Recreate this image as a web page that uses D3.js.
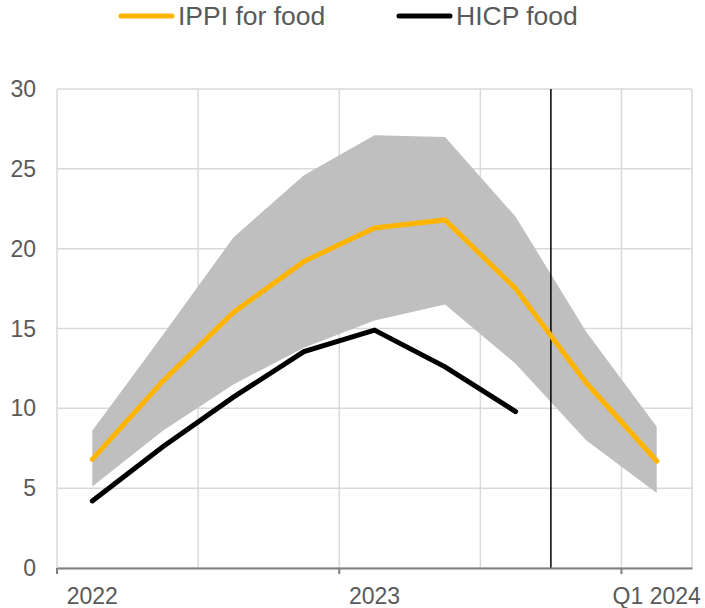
<!DOCTYPE html>
<html>
<head>
<meta charset="utf-8">
<script src="https://cdn.jsdelivr.net/npm/d3@7"></script>
<style>
  html, body { margin: 0; padding: 0; background: #fff; }
  svg { display: block; font-family: "Liberation Sans", Arial, sans-serif; }
</style>
</head>
<body>
<svg id="chart" width="705" height="608"></svg>
<script>
// Quarterly periods, Q1 2022 to Q1 2024
const quarters = ["2022Q1","2022Q2","2022Q3","2022Q4","2023Q1","2023Q2","2023Q3","2023Q4","2024Q1"];
const tickLabels = {"2022Q1": "2022", "2023Q1": "2023", "2024Q1": "Q1 2024"};

// Annual growth rates, %
const ippiFood  = [6.8, 11.7, 16.0, 19.2, 21.3, 21.8, 17.5, 11.6, 6.7];
const hicpFood  = [4.2, 7.6, 10.7, 13.55, 14.9, 12.6, 9.8, null, null];
const rangeLow  = [5.1, 8.6, 11.5, 13.8, 15.5, 16.5, 12.8, 8.0, 4.7];
const rangeHigh = [8.6, 14.6, 20.7, 24.6, 27.1, 27.0, 22.0, 14.8, 8.85];

const yTicks = [0, 5, 10, 15, 20, 25, 30];

const svg = d3.select("#chart");
const m = { left: 57, right: 13, top: 89, bottom: 40 };
const W = 705, H = 608;
const iw = W - m.left - m.right, ih = H - m.top - m.bottom;

const x = d3.scaleBand().domain(quarters).range([m.left, m.left + iw]).paddingInner(0).paddingOuter(0);
const y = d3.scaleLinear().domain([0, 30]).range([m.top + ih, m.top]);
const cx = q => x(q) + x.bandwidth() / 2;

const gridColor = "#d9d9d9";
const textColor = "#595959";
const axisColor = "#7f7f7f";

// Horizontal gridlines
svg.append("g").selectAll("line").data(yTicks).join("line")
  .attr("x1", m.left).attr("x2", m.left + iw)
  .attr("y1", d => y(d)).attr("y2", d => y(d))
  .attr("stroke", gridColor).attr("stroke-width", 1.5);

// Vertical gridlines every half year, plus the plot edges
const vGrid = quarters.filter((q, i) => i % 2 === 0).map(q => x(q)).concat([m.left + iw]);
svg.append("g").selectAll("line").data(vGrid).join("line")
  .attr("x1", d => d).attr("x2", d => d)
  .attr("y1", m.top).attr("y2", m.top + ih)
  .attr("stroke", gridColor).attr("stroke-width", 1.5);

// Range band
const area = d3.area()
  .x((d, i) => cx(quarters[i]))
  .y0((d, i) => y(rangeLow[i]))
  .y1(d => y(d));
svg.append("path").datum(rangeHigh).attr("d", area).attr("fill", "#bfbfbf");

// Projection cut-off marker
svg.append("line")
  .attr("x1", x("2023Q4")).attr("x2", x("2023Q4"))
  .attr("y1", m.top).attr("y2", m.top + ih)
  .attr("stroke", "#000").attr("stroke-width", 1.5);

const line = d3.line()
  .defined(d => d != null)
  .x((d, i) => cx(quarters[i]))
  .y(d => y(d));

svg.append("path").datum(hicpFood).attr("d", line)
  .attr("fill", "none").attr("stroke", "#000").attr("stroke-width", 5)
  .attr("stroke-linecap", "round").attr("stroke-linejoin", "miter");

svg.append("path").datum(ippiFood).attr("d", line)
  .attr("fill", "none").attr("stroke", "#ffb400").attr("stroke-width", 5)
  .attr("stroke-linecap", "round").attr("stroke-linejoin", "miter");

// Y axis labels
svg.append("g").selectAll("text").data(yTicks).join("text")
  .attr("x", 36).attr("y", d => y(d)).attr("dy", "0.35em")
  .attr("text-anchor", "end").attr("font-size", 23).attr("fill", textColor)
  .text(d => d);

// X axis
const xAxis = d3.axisBottom(x)
  .tickValues(Object.keys(tickLabels))
  .tickFormat(q => tickLabels[q])
  .tickSize(0);
const gx = svg.append("g").attr("transform", `translate(0,${m.top + ih})`).call(xAxis);
gx.select(".domain").attr("stroke", axisColor).attr("stroke-width", 2);
gx.selectAll("text").attr("font-size", 23).attr("fill", textColor)
  .attr("font-family", "Liberation Sans, Arial, sans-serif")
  .attr("y", 36).attr("dy", null);
// Year boundary ticks
svg.append("g").selectAll("line").data(Object.keys(tickLabels)).join("line")
  .attr("x1", d => x(d)).attr("x2", d => x(d))
  .attr("y1", m.top + ih).attr("y2", m.top + ih + 6)
  .attr("stroke", axisColor).attr("stroke-width", 2);

// Legend
const legend = [
  { name: "IPPI for food", color: "#ffb400", x: 121 },
  { name: "HICP food", color: "#000", x: 399 }
];
const lg = svg.append("g").selectAll("g").data(legend).join("g")
  .attr("transform", d => `translate(${d.x},16)`);
lg.append("line").attr("x1", 0).attr("x2", 51).attr("y1", 0).attr("y2", 0)
  .attr("stroke", d => d.color).attr("stroke-width", 5).attr("stroke-linecap", "round");
lg.append("text").attr("x", 57).attr("y", 0).attr("dy", "0.35em")
  .attr("font-size", 26.5).attr("fill", textColor).text(d => d.name);
</script>
</body>
</html>
